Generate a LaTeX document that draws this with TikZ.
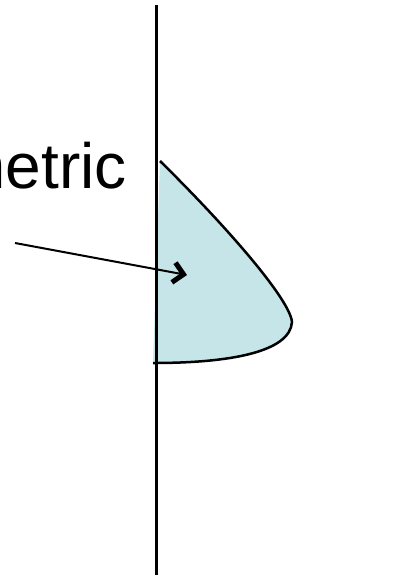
\documentclass[tikz,border=0pt]{standalone}
\usepackage{fontspec}
\setmainfont{Liberation Sans}
\usepackage{xcolor}
\usetikzlibrary{arrows.meta, positioning}
\definecolor{lobefill}{RGB}{197,229,232}

\begin{document}
\begin{tikzpicture}[x=1pt, y=-1pt]
    \useasboundingbox (0,0) rectangle (402,579);
    \clip (0,0) rectangle (402,579);

    % Filled lobe
    \fill[lobefill] (160,161) .. controls (230,230) and (290,300) .. (292,322)
        .. controls (290,352) and (230,363) .. (153,363) -- cycle;
    \draw[line width=2.5pt] (160,161) .. controls (230,230) and (290,300) .. (292,322)
        .. controls (290,352) and (230,363) .. (153,363);

    % Axis
    \draw[line width=3pt] (156,5) -- (156,575);

    % Label and arrow
    \node[anchor=base east, inner sep=0pt, font=\fontsize{64}{70}\selectfont] (label) at (127,188) {metric};
    \coordinate (tail) at (15,243);
    \coordinate (head) at (187,275);
    \draw[line width=2pt, -{Straight Barb[length=10pt, width=20pt, line width=5pt]}] (tail) -- (head);
\end{tikzpicture}
\end{document}
